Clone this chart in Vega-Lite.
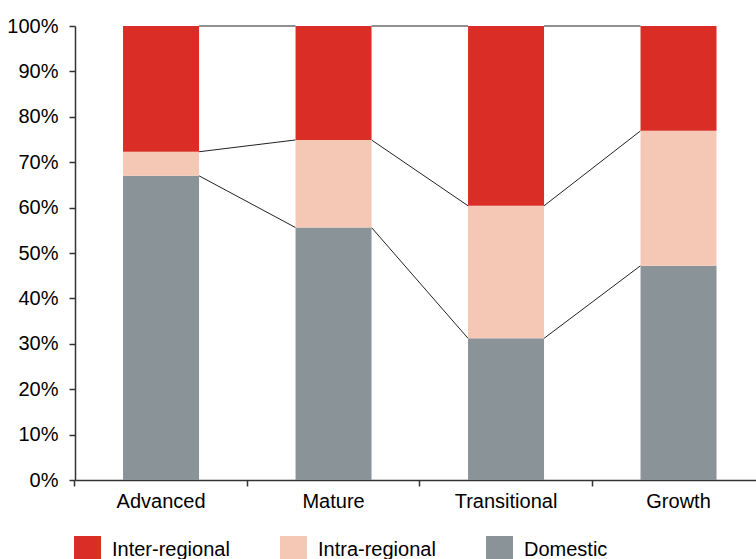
{
  "$schema": "https://vega.github.io/schema/vega-lite/v6.json",
  "width": 681,
  "height": 454,
  "autosize": {"type": "none"},
  "padding": {"left": 75, "top": 26, "right": 0, "bottom": 79},
  "background": "#ffffff",
  "config": {
    "view": {"stroke": null},
    "font": "Liberation Sans",
    "axis": {"labelColor": "#000000", "labelFontSize": 20, "labelFont": "Liberation Sans", "domainColor": "#333333", "tickColor": "#333333", "grid": false, "title": null}
  },
  "datasets": {
    "shares": [
      {"group": "Advanced", "flow": "Domestic", "stackOrder": 1, "share": 67.0},
      {"group": "Advanced", "flow": "Intra-regional", "stackOrder": 2, "share": 5.3},
      {"group": "Advanced", "flow": "Inter-regional", "stackOrder": 3, "share": 27.7},
      {"group": "Mature", "flow": "Domestic", "stackOrder": 1, "share": 55.6},
      {"group": "Mature", "flow": "Intra-regional", "stackOrder": 2, "share": 19.3},
      {"group": "Mature", "flow": "Inter-regional", "stackOrder": 3, "share": 25.1},
      {"group": "Transitional", "flow": "Domestic", "stackOrder": 1, "share": 31.2},
      {"group": "Transitional", "flow": "Intra-regional", "stackOrder": 2, "share": 29.2},
      {"group": "Transitional", "flow": "Inter-regional", "stackOrder": 3, "share": 39.6},
      {"group": "Growth", "flow": "Domestic", "stackOrder": 1, "share": 47.2},
      {"group": "Growth", "flow": "Intra-regional", "stackOrder": 2, "share": 29.7},
      {"group": "Growth", "flow": "Inter-regional", "stackOrder": 3, "share": 23.1}
    ],
    "links": [
      {"from": "Advanced", "to": "Mature", "level": 100, "nextLevel": 100},
      {"from": "Advanced", "to": "Mature", "level": 72.3, "nextLevel": 74.9},
      {"from": "Advanced", "to": "Mature", "level": 67.0, "nextLevel": 55.6},
      {"from": "Mature", "to": "Transitional", "level": 100, "nextLevel": 100},
      {"from": "Mature", "to": "Transitional", "level": 74.9, "nextLevel": 60.4},
      {"from": "Mature", "to": "Transitional", "level": 55.6, "nextLevel": 31.2},
      {"from": "Transitional", "to": "Growth", "level": 100, "nextLevel": 100},
      {"from": "Transitional", "to": "Growth", "level": 60.4, "nextLevel": 76.9},
      {"from": "Transitional", "to": "Growth", "level": 31.2, "nextLevel": 47.2}
    ]
  },
  "resolve": {"scale": {"x": "shared", "y": "shared"}},
  "layer": [
    {
      "data": {"name": "links"},
      "mark": {"type": "rule", "color": "#222222", "strokeWidth": 1},
      "encoding": {
        "x": {"field": "from", "type": "nominal", "bandPosition": 1},
        "x2": {"field": "to", "bandPosition": 0},
        "y": {"field": "level", "type": "quantitative"},
        "y2": {"field": "nextLevel"}
      }
    },
    {
      "data": {"name": "shares"},
      "mark": {"type": "bar"},
      "encoding": {
        "x": {
          "field": "group",
          "type": "nominal",
          "scale": {"domain": ["Advanced", "Mature", "Transitional", "Growth"], "paddingInner": 0.5594, "paddingOuter": 0.2537, "align": 0.549},
          "axis": {"labelAngle": 0, "labelAlign": "center", "labelBaseline": "top", "bandPosition": -0.635, "labelOffset": 0, "tickSize": 6, "labelPadding": 5, "domainWidth": 1.5, "tickWidth": 1.5}
        },
        "y": {
          "field": "share",
          "type": "quantitative",
          "stack": "zero",
          "scale": {"domain": [0, 100], "nice": false},
          "axis": {"values": [0, 10, 20, 30, 40, 50, 60, 70, 80, 90, 100], "labelExpr": "datum.value + '%'", "tickSize": 6, "labelPadding": 11, "domainWidth": 1.5, "tickWidth": 1.5}
        },
        "color": {
          "field": "flow",
          "type": "nominal",
          "scale": {"domain": ["Inter-regional", "Intra-regional", "Domestic"], "range": ["#D92D26", "#F5C8B6", "#8A9398"]},
          "legend": {
            "title": null,
            "orient": "none",
            "legendX": -1,
            "legendY": 510,
            "direction": "horizontal",
            "symbolType": "square",
            "symbolSize": 729,
            "symbolStrokeWidth": 0,
            "symbolOpacity": 1,
            "labelFontSize": 20,
            "labelColor": "#000000",
            "labelOffset": 11,
            "columnPadding": 50,
            "padding": 0
          }
        },
        "order": {"field": "stackOrder", "type": "quantitative"}
      }
    }
  ]
}
